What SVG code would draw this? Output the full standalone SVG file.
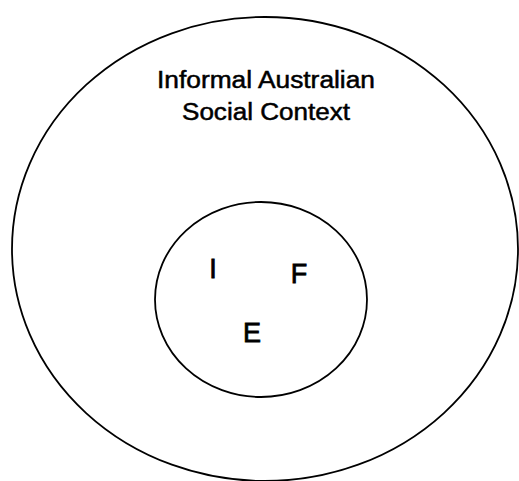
<svg xmlns="http://www.w3.org/2000/svg" width="519" height="481" viewBox="0 0 519 481">
<style>
.ring{fill:none;stroke:#000;stroke-width:1.8}
.t{font-family:"Liberation Sans",Arial,sans-serif;fill:#000;stroke:#000;stroke-width:0.5;text-anchor:middle}
.title{font-size:23.5px}
.letter{font-size:27px;stroke-width:0.8}
</style>
<rect width="519" height="481" fill="#fff"/>
<g id="outer">
<ellipse class="ring" cx="265" cy="249" rx="253" ry="232"/>
<text class="t title" x="266" y="88" textLength="218" lengthAdjust="spacingAndGlyphs">Informal Australian</text>
<text class="t title" x="266" y="120" textLength="168" lengthAdjust="spacingAndGlyphs">Social Context</text>
</g>
<g id="inner">
<ellipse class="ring" cx="261" cy="299.5" rx="106" ry="97.5"/>
</g>
<g id="node-I"><text class="t letter" x="213" y="278">I</text></g>
<g id="node-F"><text class="t letter" x="299" y="283">F</text></g>
<g id="node-E"><text class="t letter" x="252" y="342">E</text></g>
<g id="connectors"></g>
</svg>
